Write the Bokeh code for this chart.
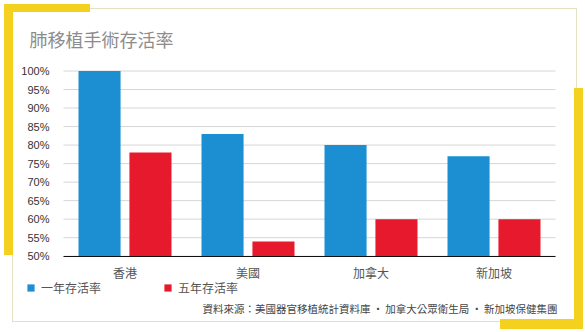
from bokeh.plotting import figure
from bokeh.models import (Range1d, FixedTicker, Legend, LegendItem, Label,
                          InlineStyleSheet)
from bokeh.embed import file_html
from bokeh.resources import INLINE

# ---- data ----
countries = ["香港", "美國", "加拿大", "新加坡"]
one_year = [100, 83, 80, 77]
five_year = [78, 54, 60, 60]
series_names = ["一年存活率", "五年存活率"]
y_ticks = [50, 55, 60, 65, 70, 75, 80, 85, 90, 95, 100]
y_tick_labels = ["50%", "55%", "60%", "65%", "70%", "75%", "80%", "85%", "90%", "95%", "100%"]
title_text = "肺移植手術存活率"
source_text = ("資料來源：美國器官移植統計資料庫\u2009·\u2009加拿大公眾衛生局"
               "\u2009·\u2009新加坡保健集團")

# ---- layout constants (canvas px) ----
W, H = 585, 332
PL, PR, PT, PB = 63, 555, 70.5, 255.7   # plotting area left/right/top/bottom
Y0, Y1 = 50, 100
N = len(countries)

xpx = (PR - PL) / N              # px per category
ypx = (PB - PT) / (Y1 - Y0)      # px per percent
x_start = -PL / xpx
x_end = N + (W - PR) / xpx
y_start = Y0 - (H - PB) / ypx
y_end = Y1 + PT / ypx

CJK = "Noto Sans CJK TC"
LAT = "Liberation Sans"
BLUE = "#1b8fd2"
RED = "#e71a2d"
YELLOW = "#f4d11f"
THIN = "#e4e1c2"

p = figure(width=W, height=H, x_range=Range1d(x_start, x_end),
           y_range=Range1d(y_start, y_end), output_backend="svg",
           toolbar_location=None, min_border=0,
           background_fill_color=None, border_fill_color=None,
           outline_line_color=None)

centers = [i + 0.5 for i in range(N)]

# horizontal grid lines over the plotting area only
p.segment(x0=[0] * len(y_ticks), x1=[N] * len(y_ticks), y0=y_ticks, y1=y_ticks,
          line_color="#d6d6d6", line_width=1)

r1 = p.vbar(x=[c - 0.207 for c in centers], top=one_year, bottom=Y0, width=0.342,
            fill_color=BLUE, line_color=None)
r2 = p.vbar(x=[c + 0.207 for c in centers], top=five_year, bottom=Y0, width=0.342,
            fill_color=RED, line_color=None)

p.grid.visible = False

# y axis, pinned at the left edge of the plotting area
p.yaxis.fixed_location = 0
p.yaxis.ticker = FixedTicker(ticks=y_ticks)
p.yaxis.major_label_overrides = {t: l for t, l in zip(y_ticks, y_tick_labels)}
p.yaxis.axis_line_color = None
p.yaxis.major_tick_line_color = None
p.yaxis.minor_tick_line_color = None
p.yaxis.major_label_text_font = LAT
p.yaxis.major_label_text_font_size = "11px"
p.yaxis.major_label_text_color = "#333333"
p.yaxis.major_label_standoff = 8

# x axis, pinned at 50%
p.xaxis.fixed_location = Y0
p.xaxis.bounds = (0, N)
p.xaxis.ticker = FixedTicker(ticks=centers)
p.xaxis.major_label_overrides = {c: n for c, n in zip(centers, countries)}
p.xaxis.axis_line_color = "#111111"
p.xaxis.axis_line_width = 1
p.xaxis.major_tick_line_color = None
p.xaxis.minor_tick_line_color = None
p.xaxis.major_label_text_font = CJK
p.xaxis.major_label_text_font_size = "12px"
p.xaxis.major_label_text_color = "#555555"
p.xaxis.major_label_standoff = 2

# legend (location: left, bottom in screen px from the bottom-left corner)
legend = Legend(items=[LegendItem(label=series_names[0], renderers=[r1]),
                       LegendItem(label=series_names[1], renderers=[r2])],
                orientation="horizontal", location=(26, H - 296),
                glyph_width=9, glyph_height=9, label_standoff=6, spacing=62,
                padding=2, margin=0, border_line_color=None,
                background_fill_alpha=0, label_text_font=CJK,
                label_text_font_size="12px", label_text_color="#555555",
                label_height=14)
p.add_layout(legend)

# title & source (screen units: from left, from bottom)
p.add_layout(Label(x=29, y=H - 38, x_units="screen", y_units="screen",
                   text=title_text, text_font=CJK, text_font_size="18px",
                   text_color="#8c8c8c", text_baseline="middle"))
p.add_layout(Label(x=PR + 2, y=H - 308, x_units="screen", y_units="screen",
                   text=source_text, text_font=CJK, text_font_size="10.5px",
                   text_color="#444444", text_baseline="middle", text_align="right"))

# decorative frame drawn as the plot element's background
def bar(x0, y0, x1, y1, color):
    return (f"linear-gradient({color},{color})", f"{x0}px {y0}px",
            f"{x1 - x0}px {y1 - y0}px")

pieces = [
    bar(4, 4, 90, 12, YELLOW),
    bar(4, 4, 13, 255, YELLOW),
    bar(574, 88, 583, 329, YELLOW),
    bar(500, 319, 583, 329, YELLOW),
    bar(12, 8, 577, 9, THIN),
    bar(12, 321, 577, 322, THIN),
    bar(12, 8, 13, 322, THIN),
    bar(576, 8, 577, 322, THIN),
]
css = (":host { background-color: white;"
       " background-image: " + ", ".join(x[0] for x in pieces) + ";"
       " background-position: " + ", ".join(x[1] for x in pieces) + ";"
       " background-size: " + ", ".join(x[2] for x in pieces) + ";"
       " background-repeat: no-repeat; }")
p.stylesheets = [InlineStyleSheet(css=css)]

open("out.html", "w").write(file_html(p, INLINE))
